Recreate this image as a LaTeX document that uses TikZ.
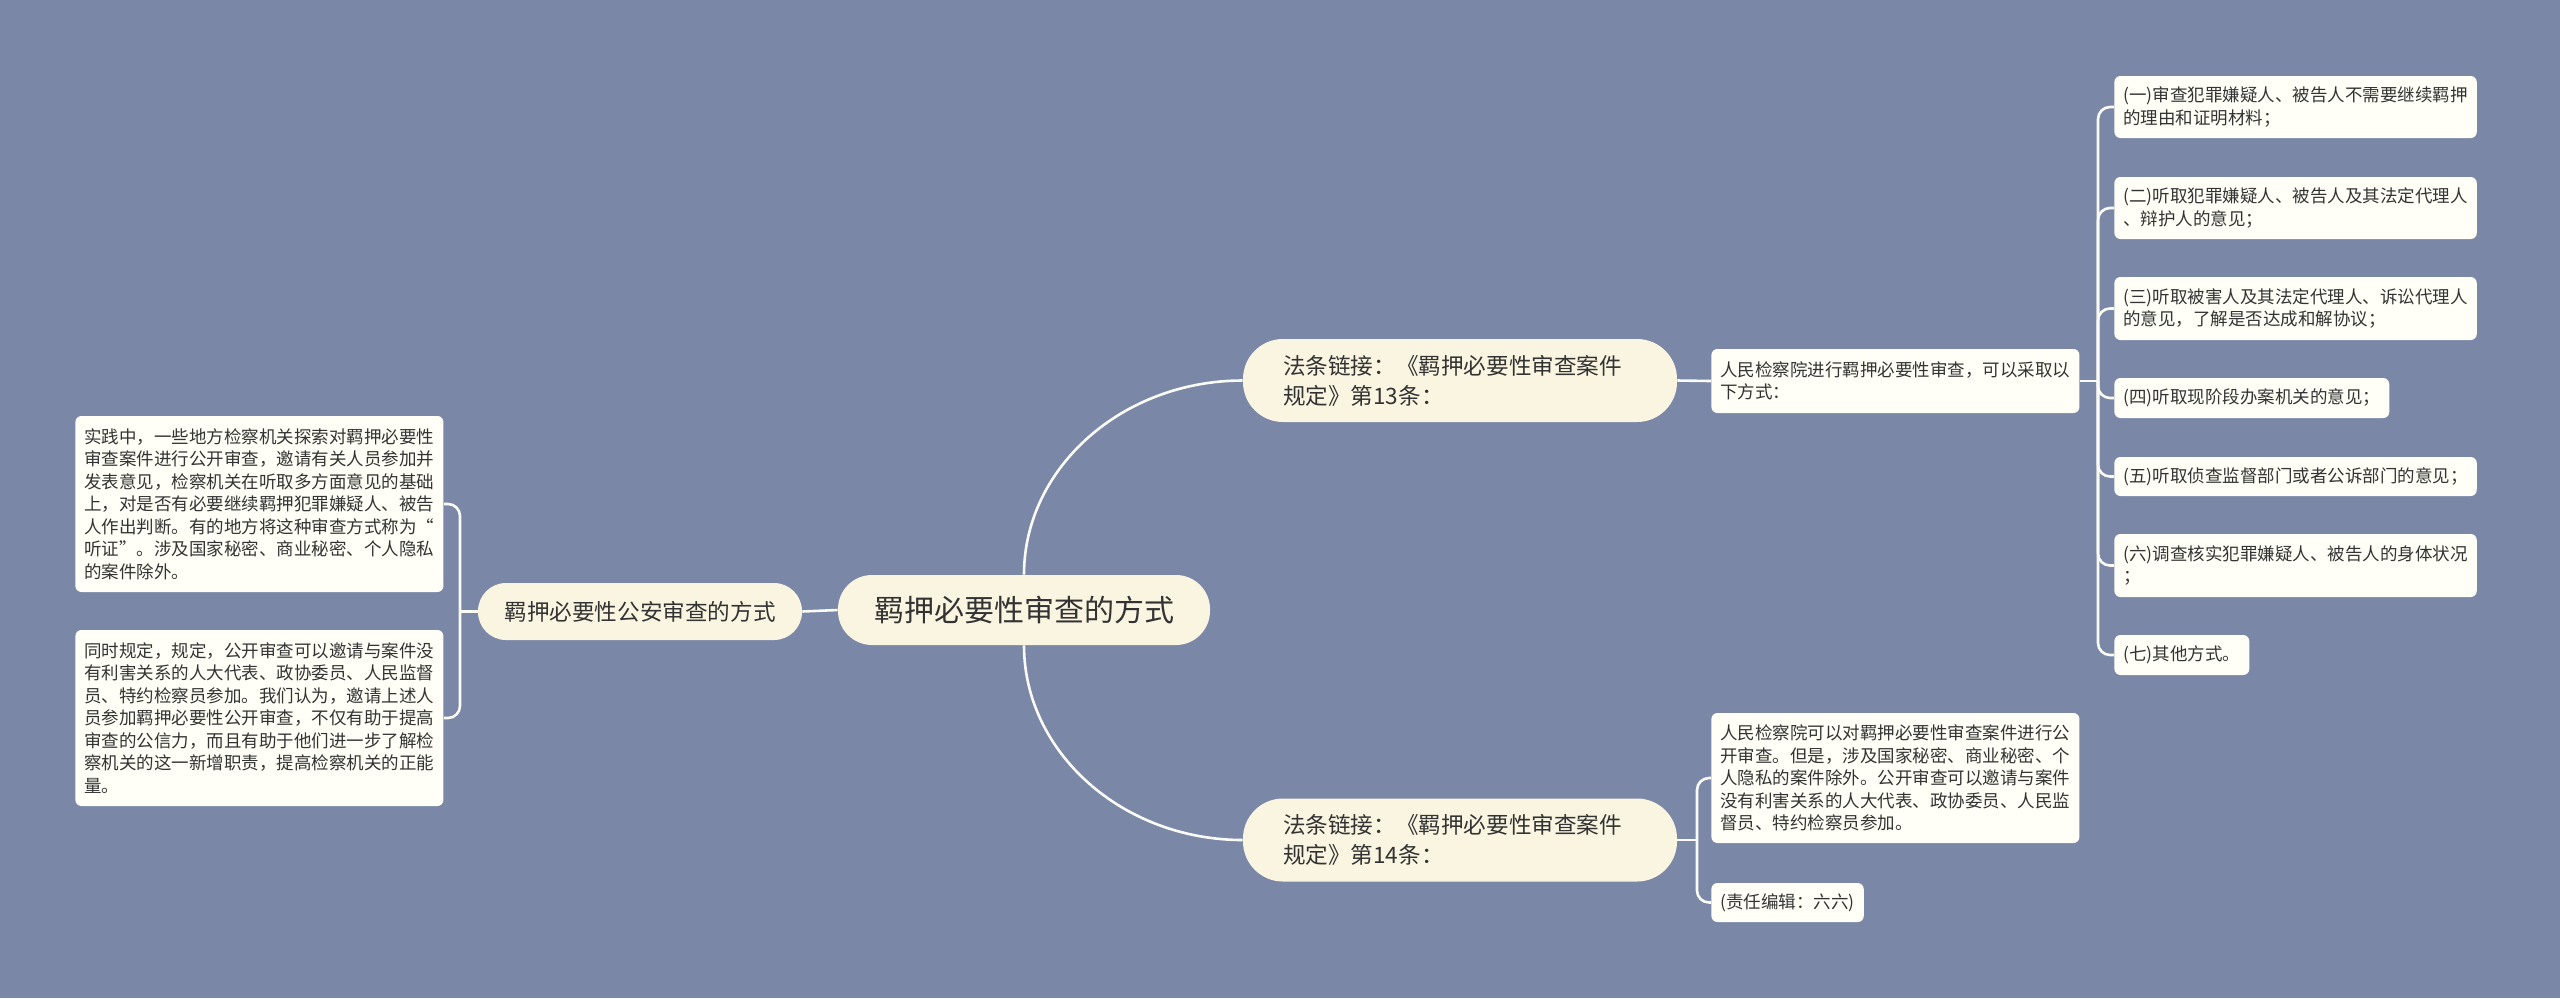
\documentclass[tikz,border=0pt]{standalone}
\usepackage{fontspec}
\setmainfont{Noto Sans CJK SC}
\usetikzlibrary{calc}
\definecolor{bg}{HTML}{7A87A7}
\definecolor{cream}{HTML}{FAF5E1}
\definecolor{leaf}{HTML}{FFFFF7}
\definecolor{txt}{HTML}{333333}
\definecolor{lnc}{HTML}{FBFBF5}
\begin{document}
\begin{tikzpicture}[x=0.5pt,y=-0.5pt,
  conn/.style={draw=lnc, line width=1.3pt},
  bracket/.style={conn, rounded corners=6pt},
  leafbox/.style={fill=leaf, rounded corners=3pt, inner xsep=4.5pt, inner ysep=4pt,
    align=left, anchor=west, text=txt, font=\fontsize{8.75pt}{11.25pt}\selectfont},
  topic/.style={fill=cream, rounded corners=20pt, inner xsep=20pt, text width=177pt,
    align=left, text=txt, font=\fontsize{11.3pt}{15pt}\selectfont, minimum height=41.5pt},
  rootbox/.style={fill=cream, rounded corners=17pt, minimum width=186pt, minimum height=35pt,
    text=txt, font=\fontsize{15pt}{18pt}\selectfont},
  secbox/.style={fill=cream, rounded corners=14pt, minimum width=162pt, minimum height=28.5pt,
    text=txt, font=\fontsize{11.3pt}{14pt}\selectfont}
]
\useasboundingbox (0,0) rectangle (2560,998);
\fill[bg] (0,0) rectangle (2560,998);

% main nodes
\node[rootbox] (root) at (1024,610) {羁押必要性审查的方式};
\node[secbox] (sec) at (640,611.5) {羁押必要性公安审查的方式};
\node[topic] (n13) at (1460,380.5) {法条链接：《羁押必要性审查案件\\规定》第13条：};
\node[topic] (n14) at (1460,840) {法条链接：《羁押必要性审查案件\\规定》第14条：};

% left leaves
\node[leafbox, minimum height=88pt] (lb1) at (75,504) {实践中，一些地方检察机关探索对羁押必要性\\审查案件进行公开审查，邀请有关人员参加并\\发表意见，检察机关在听取多方面意见的基础\\上，对是否有必要继续羁押犯罪嫌疑人、被告\\人作出判断。有的地方将这种审查方式称为“\\听证”。涉及国家秘密、商业秘密、个人隐私\\的案件除外。};
\node[leafbox, minimum height=88pt] (lb2) at (75,718) {同时规定，规定，公开审查可以邀请与案件没\\有利害关系的人大代表、政协委员、人民监督\\员、特约检察员参加。我们认为，邀请上述人\\员参加羁押必要性公开审查，不仅有助于提高\\审查的公信力，而且有助于他们进一步了解检\\察机关的这一新增职责，提高检察机关的正能\\量。};

% right leaves
\node[leafbox, minimum height=32pt] (c13) at (1711,381) {人民检察院进行羁押必要性审查，可以采取以\\下方式：};
\node[leafbox, minimum height=65pt] (c14a) at (1711,778) {人民检察院可以对羁押必要性审查案件进行公\\开审查。但是，涉及国家秘密、商业秘密、个\\人隐私的案件除外。公开审查可以邀请与案件\\没有利害关系的人大代表、政协委员、人民监\\督员、特约检察员参加。};
\node[leafbox, minimum height=19.5pt] (c14b) at (1711,902.5) {(责任编辑：六六)};

\node[leafbox, minimum height=31pt] (i1) at (2114,107) {(一)审查犯罪嫌疑人、被告人不需要继续羁押\\的理由和证明材料；};
\node[leafbox, minimum height=31pt] (i2) at (2114,208) {(二)听取犯罪嫌疑人、被告人及其法定代理人\\、辩护人的意见；};
\node[leafbox, minimum height=31.5pt] (i3) at (2114,308.5) {(三)听取被害人及其法定代理人、诉讼代理人\\的意见，了解是否达成和解协议；};
\node[leafbox, minimum height=20pt] (i4) at (2114,398) {(四)听取现阶段办案机关的意见；};
\node[leafbox, minimum height=19.5pt] (i5) at (2114,476.5) {(五)听取侦查监督部门或者公诉部门的意见；};
\node[leafbox, minimum height=31.5pt] (i6) at (2114,565.5) {(六)调查核实犯罪嫌疑人、被告人的身体状况\\；};
\node[leafbox, minimum height=20pt] (i7) at (2114,655) {(七)其他方式。};

% connectors
\draw[conn] (root.west) -- (sec.east);
\coordinate (lbr) at (460,611.5);
\draw[conn] (sec.west) -- (lbr);
\draw[bracket] (lbr) |- (lb1.east);
\draw[bracket] (lbr) |- (lb2.east);

\draw[conn] (root.north) .. controls ($(root.north)+(0,-107)$) and ($(n13.west)+(-120,0)$) .. (n13.west);
\draw[conn] (root.south) .. controls ($(root.south)+(0,107)$) and ($(n14.west)+(-120,0)$) .. (n14.west);

\draw[conn] (n13.east) -- (c13.west);
\coordinate (rb) at (2098,381);
\draw[conn] (c13.east) -- (rb);
\foreach \k in {1,...,7}{\draw[bracket] (rb) |- (i\k.west);}

\coordinate (mb) at (1697,840);
\draw[conn] (n14.east) -- (mb);
\draw[bracket] (mb) |- (c14a.west);
\draw[bracket] (mb) |- (c14b.west);
\end{tikzpicture}
\end{document}
